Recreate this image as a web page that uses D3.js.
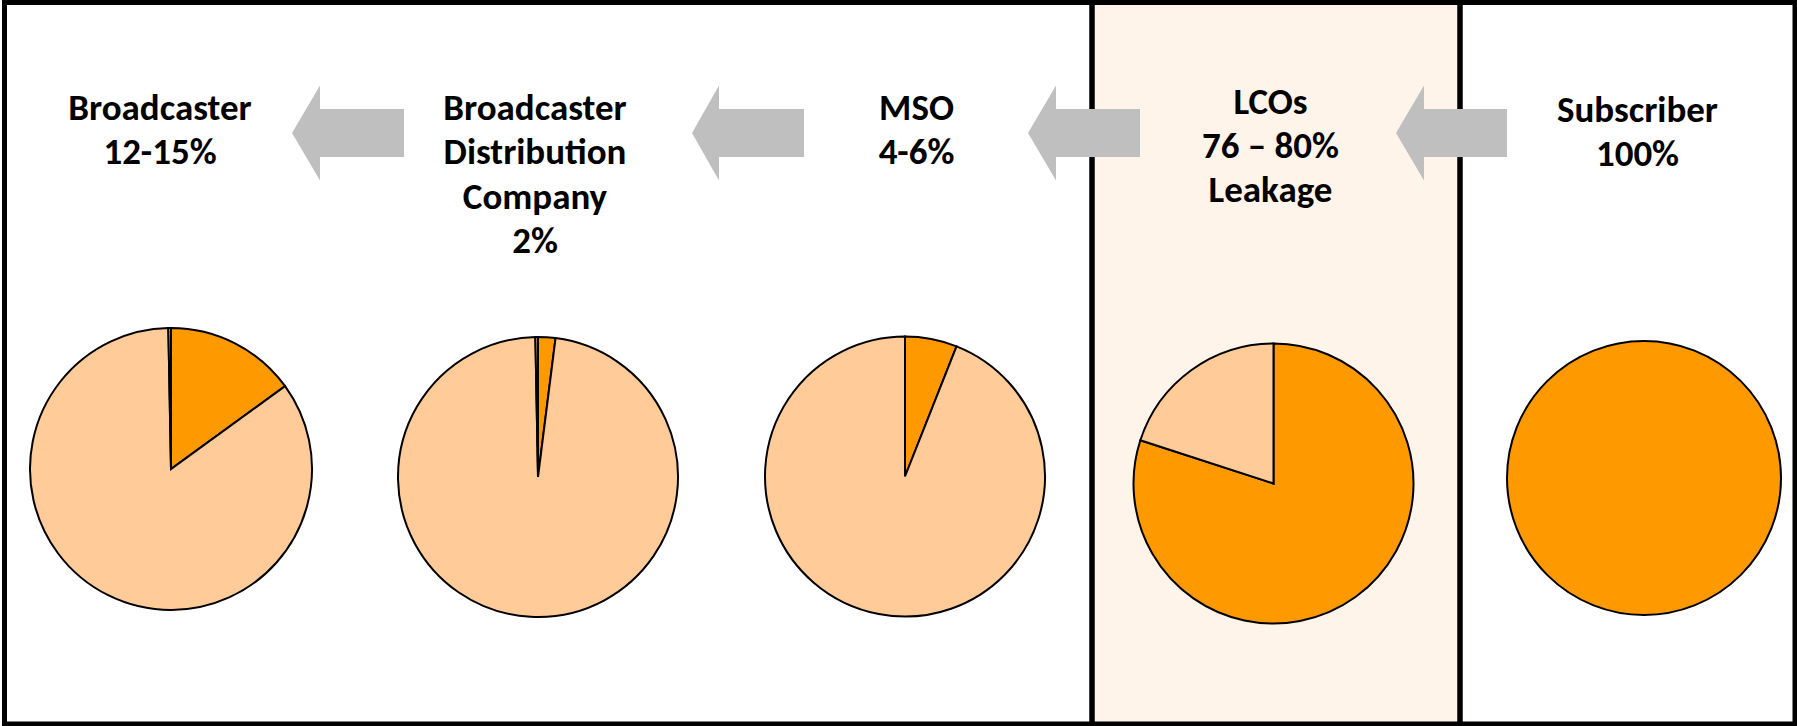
<!DOCTYPE html>
<html>
<head>
<meta charset="utf-8">
<script src="https://cdn.jsdelivr.net/npm/d3@7"></script>
<style>
  html, body { margin: 0; padding: 0; background: #fff; }
  svg { display: block; }
</style>
</head>
<body>
<svg id="chart" width="1797" height="726"></svg>
<script>
// ---- data ----
const stages = ["Broadcaster", "Broadcaster Distribution Company", "MSO", "LCOs", "Subscriber"];
const stageLabels = [
  ["Broadcaster", "12-15%"],
  ["Broadcaster", "Distribution", "Company", "2%"],
  ["MSO", "4-6%"],
  ["LCOs", "76 \u2013 80%", "Leakage"],
  ["Subscriber", "100%"]
];
const shareValues = [15, 2, 6, 80, 100];      // dark orange slice
const restValues  = [84.7, 97.7, 94, 20, 0];  // light orange slice
const otherValues = [0.3, 0.3, 0, 0, 0];      // tiny sliver
const highlightStage = "LCOs";

// ---- layout ----
const svg = d3.select("#chart");
const W = 1797, H = 726;
const colorScale = d3.scaleOrdinal()
  .domain(["share", "rest", "other"])
  .range(["#FF9900", "#FFCC99", "#FFCC99"]);

const pieCenters = [[171, 469, 141], [538, 477, 140], [905, 476.5, 140], [1273.5, 483.5, 140], [1644, 478, 137]];
const textX = [160, 535, 916.5, 1270.5, 1637.5];
const textY0 = [120, 120, 120, 113.5, 121.5];
const lineGap = 44.3;

// highlight panel
const panelX0 = 1092, panelX1 = 1460;
svg.append("rect")
  .attr("x", panelX0).attr("y", 0)
  .attr("width", panelX1 - panelX0).attr("height", H)
  .attr("fill", "#FEF4EA");
svg.selectAll("line.panel").data([panelX0, panelX1]).join("line")
  .attr("class", "panel")
  .attr("x1", d => d).attr("x2", d => d)
  .attr("y1", 0).attr("y2", H)
  .attr("stroke", "#000").attr("stroke-width", 5.5);

// outer border
svg.append("rect")
  .attr("x", 4.5).attr("y", 2.5)
  .attr("width", 1790.5).attr("height", 721.5)
  .attr("fill", "none").attr("stroke", "#000").attr("stroke-width", 5);

// arrows
const arrows = [[292, 320, 404], [692, 719, 804], [1028, 1056, 1140], [1396, 1424, 1507]];
const ay = 133, headHalf = 47.5, bodyHalf = 24;
svg.selectAll("path.arrow").data(arrows).join("path")
  .attr("class", "arrow")
  .attr("d", ([tip, base, tail]) => d3.line()([
    [tip, ay], [base, ay - headHalf], [base, ay - bodyHalf], [tail, ay - bodyHalf],
    [tail, ay + bodyHalf], [base, ay + bodyHalf], [base, ay + headHalf]
  ]) + "Z")
  .attr("fill", "#BFBFBF");

// pies
const pie = d3.pie().sort(null).value(d => d.value);
stages.forEach((s, i) => {
  const [cx, cy, r] = pieCenters[i];
  const parts = [
    {key: "share", value: shareValues[i]},
    {key: "rest", value: restValues[i]},
    {key: "other", value: otherValues[i]}
  ].filter(d => d.value > 0);
  const arc = d3.arc().innerRadius(0).outerRadius(r);
  const g = svg.append("g").attr("transform", `translate(${cx},${cy})`);
  g.selectAll("path").data(pie(parts)).join("path")
    .attr("d", arc)
    .attr("fill", d => colorScale(d.data.key))
    .attr("stroke", "#000")
    .attr("stroke-width", 2)
    .attr("stroke-linejoin", "miter");
});

// text
const fontFamily = "Carlito, Calibri, Lato, 'Open Sans', sans-serif";
const probe = svg.append("text").attr("font-family", fontFamily).attr("font-weight", "bold")
  .attr("font-size", 36.7).text("Subscriber");
const w = probe.node().getComputedTextLength();
probe.remove();
const fontSize = 36.7 * 161 / w;

stageLabels.forEach((lines, i) => {
  svg.append("g").selectAll("text").data(lines).join("text")
    .attr("x", textX[i])
    .attr("y", (d, j) => textY0[i] + j * lineGap)
    .attr("text-anchor", "middle")
    .attr("font-family", fontFamily)
    .attr("font-weight", "bold")
    .attr("font-size", fontSize)
    .attr("fill", "#000")
    .text(d => d);
});
</script>
</body>
</html>
